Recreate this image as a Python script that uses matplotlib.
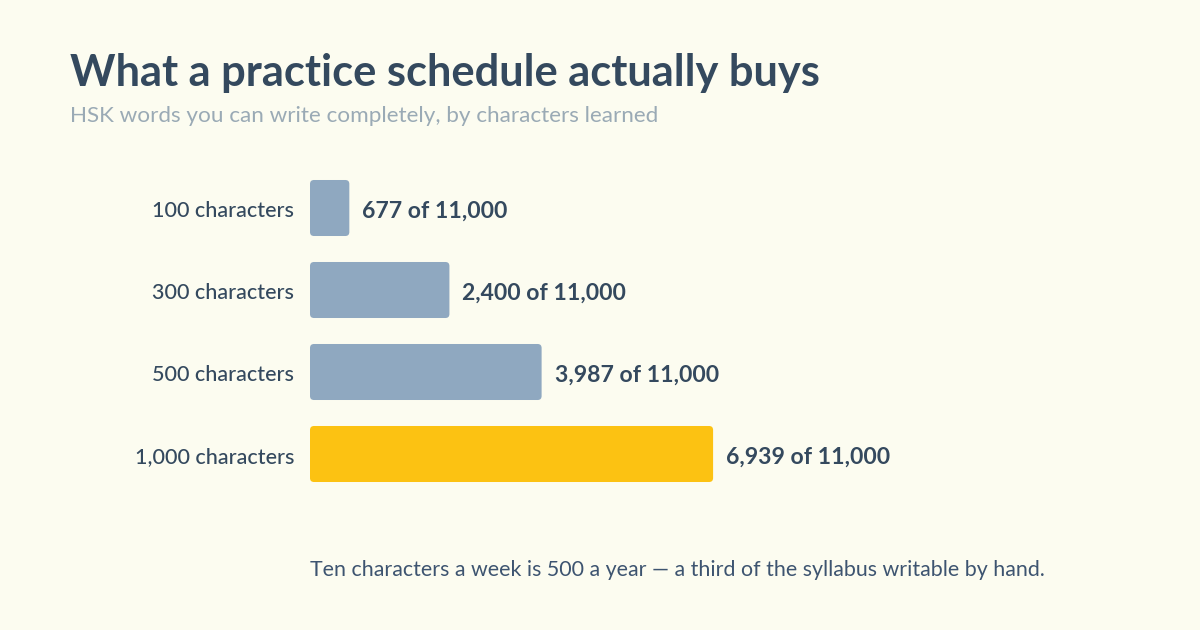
import matplotlib.pyplot as plt
from matplotlib.patches import FancyBboxPatch

plt.rcParams['font.family'] = ['Lato', 'DejaVu Sans']

categories = ["100 characters", "300 characters", "500 characters", "1,000 characters"]
words = [677, 2400, 3987, 6939]
total = 11000
colors = ["#8FA8C0", "#8FA8C0", "#8FA8C0", "#FCC212"]

bg = "#FCFCF0"
navy = "#34495E"

fig = plt.figure(figsize=(12, 6.3), dpi=100, facecolor=bg)
ax = fig.add_axes([310 / 1200, 1 - 495 / 630, 639 / 1200, 328 / 630])
ax.set_facecolor(bg)
ax.set_xlim(0, total)
ax.set_ylim(3.5, -0.5)

# px -> data units for rounded corners
px_x = total / 639
px_y = 4 / 328
r = 4

bars = ax.barh(range(len(words)), words, height=0.683, color=colors)
for b, c in zip(bars, colors):
    x0, y0 = b.get_x(), b.get_y()
    w, h = b.get_width(), b.get_height()
    b.remove()
    p = FancyBboxPatch((x0, y0), w, h,
                       boxstyle=f"round,pad=0,rounding_size={r * px_x}",
                       mutation_aspect=px_y / px_x,
                       facecolor=c, edgecolor="none")
    ax.add_patch(p)

for i, (cat, v) in enumerate(zip(categories, words)):
    ax.text(-16 * px_x, i + 3 * px_y, cat, ha="right", va="center",
            fontsize=15.5, color=navy, fontweight="medium")
    ax.text(v + 13 * px_x, i + 3 * px_y, f"{v:,} of {total:,}", ha="left", va="center",
            fontsize=16.6, color=navy, fontweight="bold")

ax.axis("off")

fig.text(70 / 1200, 1 - 73 / 630, "What a practice schedule actually buys",
         fontsize=31.2, fontweight="bold", color=navy, va="center")
fig.text(70 / 1200, 1 - 116 / 630, "HSK words you can write completely, by characters learned",
         fontsize=16.2, color="#9AAAB5", va="center")
fig.text(310 / 1200, 1 - 570 / 630,
         "Ten characters a week is 500 a year \u2014 a third of the syllabus writable by hand.",
         fontsize=15.4, color="#3D5470", va="center")

fig.savefig("out.png", dpi=100, facecolor=bg)
